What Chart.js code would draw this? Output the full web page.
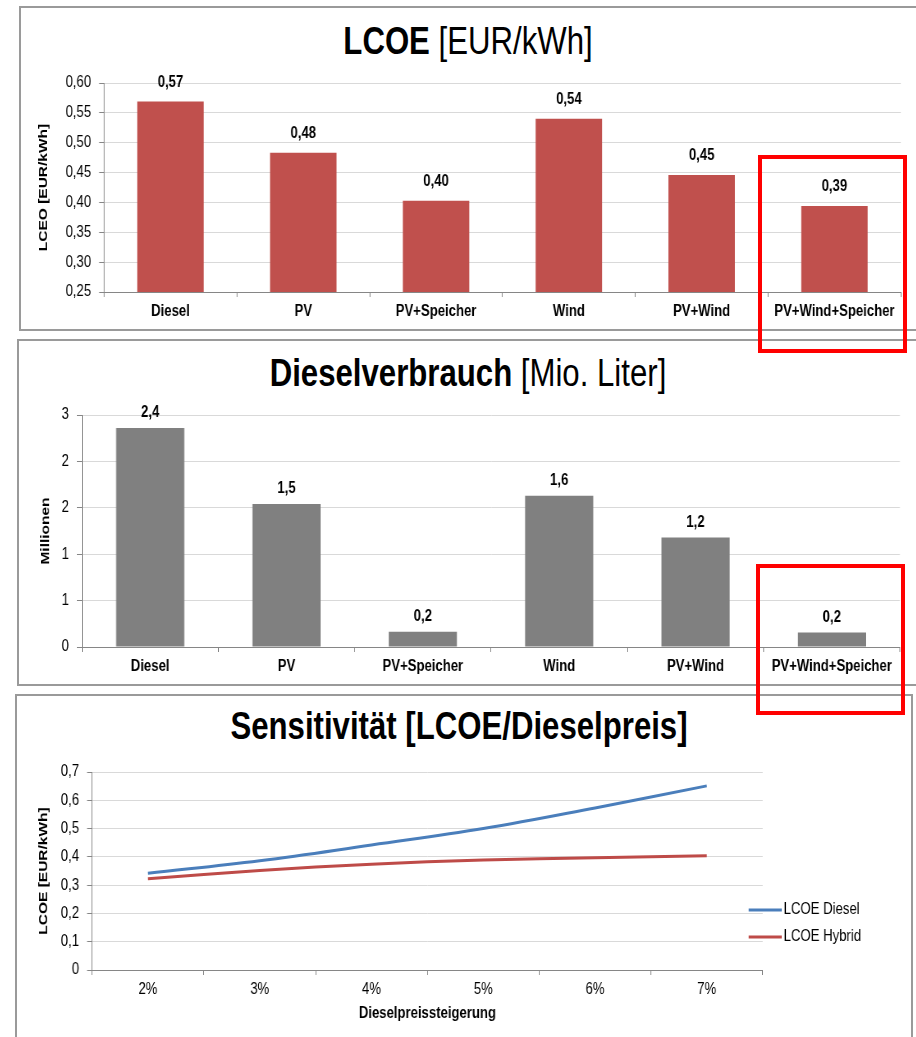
<!DOCTYPE html>
<html>
<head>
<meta charset="utf-8">
<script src="https://cdn.jsdelivr.net/npm/chart.js@4.4.1/dist/chart.umd.min.js"></script>
<style>
  body { margin: 0; width: 916px; height: 1037px; position: relative; overflow: hidden; background: #fff;
         font-family: "Liberation Sans", Arial, sans-serif; }
  .panel { position: absolute; border: 2px solid #9a9a9a; box-sizing: border-box; background: #fff; }
  /* the reference uses a narrow face; squeeze the regular one to match */
  .title { position: absolute; left: 0; width: 936px; text-align: center; font-size: 38px; line-height: 38px;
           color: #000; white-space: nowrap; transform: scaleX(0.82); transform-origin: 50% 0; }
  .box { position: absolute; transform: scaleX(0.82); transform-origin: 0 0; }
  .mark { position: absolute; border: 4px solid #f00; box-sizing: border-box; }
</style>
</head>
<body>
<div class="panel" style="left:19px;top:6px;width:910px;height:325px"></div>
<div class="panel" style="left:17px;top:339px;width:912px;height:347px"></div>
<div class="panel" style="left:15px;top:694px;width:898px;height:360px"></div>

<div class="title" style="top:22px"><b>LCOE</b> [EUR/kWh]</div>
<div class="title" style="top:354px"><b>Dieselverbrauch</b> [Mio. Liter]</div>
<div class="title" style="top:707px;left:-9px"><b>Sensitivität [LCOE/Dieselpreis]</b></div>

<div class="box" id="box1"><canvas id="lcoe"></canvas></div>
<div class="box" id="box2"><canvas id="verbrauch"></canvas></div>
<div class="box" id="box3"><canvas id="sens"></canvas></div>

<div class="mark" style="left:758px;top:155px;width:149px;height:198px"></div>
<div class="mark" style="left:756px;top:564px;width:149px;height:151px"></div>

<script>
// categories and values
var systems = ["Diesel", "PV", "PV+Speicher", "Wind", "PV+Wind", "PV+Wind+Speicher"];
var lcoeValues = [0.569, 0.483, 0.403, 0.540, 0.446, 0.394];
var dieselMio = [2.36, 1.54, 0.165, 1.63, 1.18, 0.155];

var steigerung = ["2%", "3%", "4%", "5%", "6%", "7%"];
var lcoeDiesel = [0.342, 0.386, 0.442, 0.500, 0.573, 0.651];
var lcoeHybrid = [0.323, 0.352, 0.374, 0.389, 0.397, 0.404];

var SQ = 0.82;            // horizontal squeeze of the chart boxes
var FONT = '"Liberation Sans", Arial, sans-serif';
var AXIS = "#868686";
var GRID = "#d9d9d9";

// page px -> chart px (horizontal)
function hx(px) { return px / SQ; }

function place(id, left, top, width, height) {
  var el = document.getElementById(id);
  el.style.left = left + "px";
  el.style.top = top + "px";
  el.style.width = hx(width) + "px";
  el.style.height = height + "px";
}

place("box1", 20, 60, 896, 270);
place("box2", 18, 395, 898, 290);
place("box3", 16, 750, 897, 287);

function comma(v, digits) {
  return v.toFixed(digits).replace(".", ",");
}

// value labels above each bar
var barLabels = {
  id: "barLabels",
  afterDatasetsDraw: function(chart, args, opts) {
    var ctx = chart.ctx;
    var values = chart.data.datasets[0].data;
    ctx.save();
    ctx.font = "bold 16px " + FONT;
    ctx.fillStyle = "#000";
    ctx.textAlign = "center";
    ctx.textBaseline = "middle";
    chart.getDatasetMeta(0).data.forEach(function(bar, i) {
      ctx.fillText(comma(values[i], opts.digits), bar.x, bar.y - opts.gap);
    });
    ctx.restore();
  }
};

// legend to the right of the line chart
var sideLegend = {
  id: "sideLegend",
  afterDraw: function(chart) {
    var ctx = chart.ctx;
    var area = chart.chartArea;
    ctx.save();
    ctx.font = "16px " + FONT;
    ctx.fillStyle = "#000";
    ctx.textBaseline = "middle";
    chart.data.datasets.forEach(function(ds, i) {
      var y = area.top + 138 + i * 27;
      ctx.strokeStyle = ds.borderColor;
      ctx.lineWidth = 3;
      ctx.beginPath();
      ctx.moveTo(area.right - hx(14), y);
      ctx.lineTo(area.right + hx(19), y);
      ctx.stroke();
      ctx.fillText(ds.label, area.right + hx(21), y);
    });
    ctx.restore();
  }
};

function yAxis(min, max, step, format, title, width) {
  return {
    min: min, max: max,
    ticks: { stepSize: step, callback: format, padding: hx(8), color: "#000", font: { family: FONT, size: 16 } },
    grid: { color: GRID, tickColor: AXIS, tickLength: hx(5) },
    border: { color: AXIS },
    title: { display: true, text: title, color: "#000", padding: 0,
             font: { family: FONT, size: 15.5, weight: "bold" } },
    afterFit: function(scale) { scale.width = hx(width); }
  };
}

function xAxis(height, bold, title) {
  var axis = {
    offset: true,
    ticks: { padding: 5, color: "#000", maxRotation: 0, autoSkip: false,
             font: { family: FONT, size: 16, weight: bold ? "bold" : "normal" } },
    grid: { offset: true, drawOnChartArea: false, tickColor: AXIS, tickLength: 5 },
    border: { color: AXIS },
    afterFit: function(scale) { scale.height = height; }
  };
  if (title) {
    axis.title = { display: true, text: title, color: "#000", padding: 0,
                   font: { family: FONT, size: 16, weight: "bold" } };
  }
  return axis;
}

function pad(left, top, right, bottom) {
  return { padding: { left: hx(left), top: top, right: hx(right), bottom: bottom } };
}

var common = {
  responsive: true,
  maintainAspectRatio: false,
  animation: false,
  plugins: { legend: { display: false }, tooltip: { enabled: false } }
};

new Chart(document.getElementById("lcoe"), {
  type: "bar",
  data: {
    labels: systems,
    datasets: [{ data: lcoeValues, backgroundColor: "#c0504d", categoryPercentage: 0.5, barPercentage: 1 }]
  },
  options: Object.assign({}, common, {
    layout: pad(16, 23, 16, 0),
    plugins: Object.assign({}, common.plugins, { barLabels: { digits: 2, gap: 19 } }),
    scales: {
      x: xAxis(38, true),
      y: yAxis(0.25, 0.6, 0.05, function(v) { return comma(v, 2); }, "LCEO [EUR/kWh]", 68)
    }
  }),
  plugins: [barLabels]
});

new Chart(document.getElementById("verbrauch"), {
  type: "bar",
  data: {
    labels: systems,
    datasets: [{ data: dieselMio, backgroundColor: "#808080", categoryPercentage: 0.5, barPercentage: 1 }]
  },
  options: Object.assign({}, common, {
    layout: pad(20, 20, 16, 0),
    plugins: Object.assign({}, common.plugins, { barLabels: { digits: 1, gap: 15 } }),
    scales: {
      x: xAxis(38, true),
      y: yAxis(0, 2.5, 0.5, function(v) { return String(Math.round(v)); }, "Millionen", 44)
    }
  }),
  plugins: [barLabels]
});

new Chart(document.getElementById("sens"), {
  type: "line",
  data: {
    labels: steigerung,
    datasets: [
      { label: "LCOE Diesel", data: lcoeDiesel, borderColor: "#4a7ebb", borderWidth: 3, tension: 0.4, pointRadius: 0 },
      { label: "LCOE Hybrid", data: lcoeHybrid, borderColor: "#be4b48", borderWidth: 3, tension: 0.4, pointRadius: 0 }
    ]
  },
  options: Object.assign({}, common, {
    layout: pad(20, 22, 151, 14),
    scales: {
      x: xAxis(53, false, "Dieselpreissteigerung"),
      y: yAxis(0, 0.7, 0.1, function(v) { return v === 0 ? "0" : comma(v, 1); }, "LCOE [EUR/kWh]", 56)
    }
  }),
  plugins: [sideLegend]
});
</script>
</body>
</html>
